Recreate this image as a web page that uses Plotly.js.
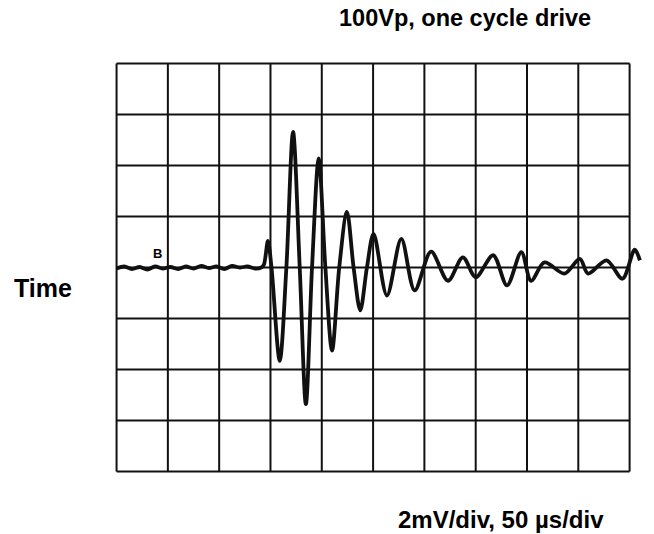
<!DOCTYPE html>
<html>
<head>
<meta charset="utf-8">
<script src="https://cdn.plot.ly/plotly-3.0.1.min.js"></script>
<style>html,body{margin:0;padding:0;background:#fff;}#chart{width:654px;height:534px;}</style>
</head>
<body>
<div id="chart"></div>
<script>
// time in microseconds (50 us/div), voltage in mV (2 mV/div)
const timeUs = [0, 7.5, 15, 22.5, 30, 37.5, 45, 52.5, 60, 67.5, 75, 82.5, 90, 97.5, 105, 112.5, 120, 127.5, 135, 141,
  143.5, 147.5, 151, 159, 165.5, 172, 178.5, 184.5, 190.5, 197, 203.5, 210, 217, 224.5, 231, 237.5, 244, 250.5,
  263.5, 277.5, 290.5, 306.5, 323, 337.5, 350, 367, 380.5, 394.5, 404, 417, 436.5, 451.5, 459.5, 477.5, 493, 505, 510];
const voltageMv = [-0.04, 0.04, -0.06, 0.02, -0.08, 0.04, -0.04, 0.02, -0.06, 0.04, -0.04, 0.06, -0.02, 0.04, -0.06, 0.06, 0.0, 0.04, -0.04, 0.0,
  0.1, 1.04, 0.0, -3.66, 0.0, 5.32, 0.0, -5.36, 0.0, 4.28, 0.0, -3.26, 0.0, 2.18, 0.0, -1.68, 0.0, 1.32,
  -1.1, 1.12, -0.9, 0.62, -0.52, 0.4, -0.38, 0.48, -0.7, 0.6, -0.52, 0.2, -0.24, 0.34, -0.24, 0.28, -0.44, 0.7, 0.28];
const xTicks = [0, 50, 100, 150, 200, 250, 300, 350, 400, 450, 500];
const yTicks = [-8, -6, -4, -2, 0, 2, 4, 6, 8];
const titleText = '<b>100Vp, one cycle drive</b>';
const yLabelText = '<b>Time</b>';
const scaleText = '<b>2mV/div, 50 \u00b5s/div</b>';
const traceLabel = 'B';

const trace = {
  x: timeUs, y: voltageMv, type: 'scatter', mode: 'lines',
  line: {color: '#111', width: 3.8, shape: 'spline', smoothing: 0.9},
  hoverinfo: 'skip', showlegend: false
};
const fam = 'Arial, "Liberation Sans", sans-serif';
const gridStyle = {color: '#111', width: 2};
const xMin = xTicks[0], xMax = xTicks[xTicks.length - 1];
const yMin = yTicks[0], yMax = yTicks[yTicks.length - 1];
const shapes = [];
xTicks.forEach(t => shapes.push({type: 'line', xref: 'x', yref: 'y', x0: t, x1: t, y0: yMin, y1: yMax, line: gridStyle, layer: 'below'}));
yTicks.forEach(t => shapes.push({type: 'line', xref: 'x', yref: 'y', x0: xMin, x1: xMax, y0: t, y1: t, line: gridStyle, layer: 'below'}));

const layout = {
  width: 654, height: 534,
  margin: {l: 114, r: 9, t: 61, b: 60},
  paper_bgcolor: '#fff', plot_bgcolor: '#fff',
  xaxis: {range: [-2.5, 515], showticklabels: false, ticks: '',
    showgrid: false, zeroline: false, showline: false, fixedrange: true},
  yaxis: {range: [-8.1, 8.1], showticklabels: false, ticks: '',
    showgrid: false, zeroline: false, showline: false, fixedrange: true},
  shapes: shapes,
  annotations: [
    {text: titleText, xref: 'paper', yref: 'paper', x: 0.661, y: 1.104, xanchor: 'center', yanchor: 'middle', showarrow: false, font: {family: fam, color: '#000', size: 23.5}},
    {text: yLabelText, xref: 'paper', yref: 'paper', x: -0.1328, y: 0.450, xanchor: 'center', yanchor: 'middle', showarrow: false, font: {family: fam, color: '#000', size: 25}},
    {text: scaleText, xref: 'paper', yref: 'paper', x: 0.7288, y: -0.109, xanchor: 'center', yanchor: 'middle', showarrow: false, font: {family: fam, color: '#000', size: 24}},
    {text: '<b>' + traceLabel + '</b>', xref: 'x', yref: 'y', x: 40, y: 0.56, xanchor: 'center', yanchor: 'middle', showarrow: false,
      font: {family: fam, color: '#000', size: 13}}
  ]
};
Plotly.newPlot('chart', [trace], layout, {displayModeBar: false, staticPlot: true});
</script>
</body>
</html>
